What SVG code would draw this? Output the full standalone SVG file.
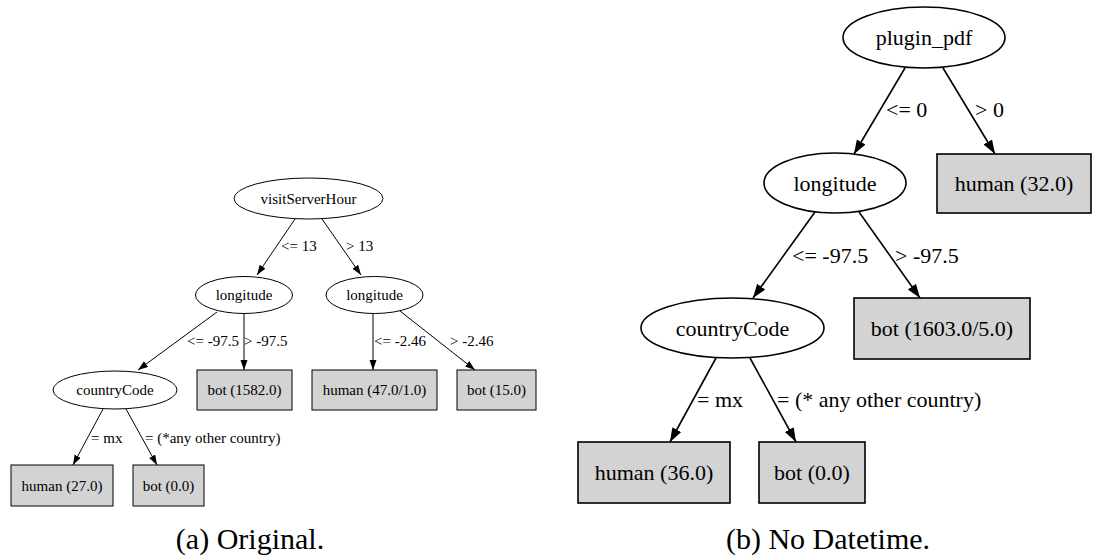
<svg xmlns="http://www.w3.org/2000/svg" width="1094" height="560" viewBox="0 0 1094 560">
<style>
text{font-family:'Liberation Serif','DejaVu Serif',serif;fill:#000}
.s{font-size:15px}
.b{font-size:22px}
.cap{font-size:30px}
.n1{fill:#fff;stroke:#000;stroke-width:1}
.n2{fill:#fff;stroke:#000;stroke-width:1.6}
.l1{fill:#d3d3d3;stroke:#000;stroke-width:1}
.l2{fill:#d3d3d3;stroke:#000;stroke-width:1.6}
.e1{stroke:#000;stroke-width:1;fill:none;marker-end:url(#a1)}
.e2{stroke:#000;stroke-width:1.6;fill:none;marker-end:url(#a2)}
</style>
<defs>
<marker id="a1" markerUnits="userSpaceOnUse" markerWidth="11" markerHeight="8" refX="10" refY="3.5" orient="auto"><path d="M0,0 L10,3.5 L0,7 z" fill="#000"/></marker>
<marker id="a2" markerUnits="userSpaceOnUse" markerWidth="15" markerHeight="11" refX="14" refY="5" orient="auto"><path d="M0,0 L14,5 L0,10 z" fill="#000"/></marker>
</defs>
<g id="connectors">
<path class="e1" d="M295,219 L257,275"/>
<path class="e1" d="M322,219 L361,275"/>
<path class="e1" d="M217,312 L138,370"/>
<path class="e1" d="M244,314 L244,370"/>
<path class="e1" d="M373,314 L373,370"/>
<path class="e1" d="M400,311 L475,370"/>
<path class="e1" d="M103,409 L73,465"/>
<path class="e1" d="M126,409 L157,465"/>
<path class="e2" d="M905,68 L854,154"/>
<path class="e2" d="M943,68 L995,154"/>
<path class="e2" d="M815,212 L753,298"/>
<path class="e2" d="M859,212 L920,298"/>
<path class="e2" d="M716,358 L670,442"/>
<path class="e2" d="M750,358 L796,442"/>
</g>
<g id="edge-labels">
<text class="s" x="281" y="251" font-family="Liberation Serif">&lt;= 13</text>
<text class="s" x="346" y="251">&gt; 13</text>
<text class="s" x="187" y="346">&lt;= -97.5</text>
<text class="s" x="244" y="346">&gt; -97.5</text>
<text class="s" x="374" y="346">&lt;= -2.46</text>
<text class="s" x="450" y="346">&gt; -2.46</text>
<text class="s" x="91" y="443">= mx</text>
<text class="s" x="145" y="443">= (*any other country)</text>
<text class="b" x="886" y="117">&lt;= 0</text>
<text class="b" x="975" y="117">&gt; 0</text>
<text class="b" x="792" y="263">&lt;= -97.5</text>
<text class="b" x="895" y="263">&gt; -97.5</text>
<text class="b" x="697" y="407">= mx</text>
<text class="b" x="777" y="407">= (* any other country)</text>
</g>
<g id="a-visitServerHour"><ellipse class="n1" cx="308.5" cy="198.5" rx="74.5" ry="20.5"/><text class="s" x="308.5" y="203.5" text-anchor="middle">visitServerHour</text></g>
<g id="a-longitude1"><ellipse class="n1" cx="244" cy="295" rx="48.5" ry="18.5"/><text class="s" x="244" y="300" text-anchor="middle">longitude</text></g>
<g id="a-longitude2"><ellipse class="n1" cx="374.5" cy="295" rx="48.5" ry="18.5"/><text class="s" x="374.5" y="300" text-anchor="middle">longitude</text></g>
<g id="a-countryCode"><ellipse class="n1" cx="115" cy="390" rx="62" ry="19"/><text class="s" x="115" y="395" text-anchor="middle">countryCode</text></g>
<g id="a-bot1582"><rect class="l1" x="197" y="370" width="95" height="40"/><text class="s" x="244.5" y="395" text-anchor="middle">bot (1582.0)</text></g>
<g id="a-human47"><rect class="l1" x="312" y="370" width="125" height="40"/><text class="s" x="374.5" y="395" text-anchor="middle">human (47.0/1.0)</text></g>
<g id="a-bot15"><rect class="l1" x="457" y="370" width="79" height="40"/><text class="s" x="496.5" y="395" text-anchor="middle">bot (15.0)</text></g>
<g id="a-human27"><rect class="l1" x="11" y="465" width="102" height="41"/><text class="s" x="62" y="490.5" text-anchor="middle">human (27.0)</text></g>
<g id="a-bot0"><rect class="l1" x="133" y="465" width="71" height="41"/><text class="s" x="168.5" y="490.5" text-anchor="middle">bot (0.0)</text></g>
<g id="b-plugin_pdf"><ellipse class="n2" cx="924" cy="37.5" rx="81" ry="30.5"/><text class="b" x="924" y="45" text-anchor="middle">plugin_pdf</text></g>
<g id="b-human32"><rect class="l2" x="937" y="154" width="154" height="59"/><text class="b" x="1014" y="191" text-anchor="middle">human (32.0)</text></g>
<g id="b-longitude"><ellipse class="n2" cx="835" cy="183" rx="71" ry="30"/><text class="b" x="835" y="190.5" text-anchor="middle">longitude</text></g>
<g id="b-countryCode"><ellipse class="n2" cx="732.5" cy="328" rx="91.5" ry="30"/><text class="b" x="732.5" y="335.5" text-anchor="middle">countryCode</text></g>
<g id="b-bot1603"><rect class="l2" x="854" y="298" width="176" height="61"/><text class="b" x="942" y="336" text-anchor="middle">bot (1603.0/5.0)</text></g>
<g id="b-human36"><rect class="l2" x="578" y="442" width="152" height="61"/><text class="b" x="654" y="480" text-anchor="middle">human (36.0)</text></g>
<g id="b-bot0"><rect class="l2" x="759" y="442" width="106" height="61"/><text class="b" x="812" y="480" text-anchor="middle">bot (0.0)</text></g>
<g id="captions">
<text class="cap" x="250" y="549" text-anchor="middle">(a) Original.</text>
<text class="cap" x="828" y="549" text-anchor="middle">(b) No Datetime.</text>
</g>
</svg>
